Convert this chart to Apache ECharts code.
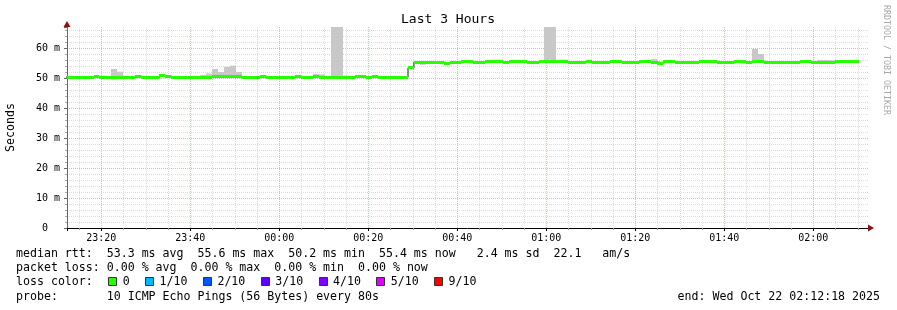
<!DOCTYPE html>
<html><head><meta charset="utf-8">
<script src="https://cdn.jsdelivr.net/npm/echarts@6/dist/echarts.min.js"></script>
<style>html,body{margin:0;padding:0;background:#fff}#c{width:897px;height:310px}</style>
</head><body><div id="c"></div>
<script>
// ---- data ----
const titleText = 'Last 3 Hours';
const yAxisName = 'Seconds';
const xMinMinutes = -47.7;   // 23:12:18 (minutes relative to 00:00)
const xMaxMinutes = 132.3;   // 02:12:18
const yMaxMs = 67;
const firstSampleMinutes = -48.4;
const sampleStepMinutes = 80 / 60;

const medianRtt = [
  50.3, 50.3, 50.3, 50.3, 50.3, 50.4, 50.3, 50.3, 50.3, 50.3,
  50.3, 50.3, 50.4, 50.3, 50.2, 50.3, 50.7, 50.5, 50.2, 50.2,
  50.3, 50.3, 50.3, 50.2, 50.3, 50.4, 50.4, 50.6, 50.6, 50.4,
  50.3, 50.2, 50.2, 50.6, 50.3, 50.3, 50.3, 50.3, 50.3, 50.4,
  50.3, 50.3, 50.4, 50.3, 50.3, 50.3, 50.3, 50.2, 50.2, 50.5,
  50.5, 50.3, 50.4, 50.3, 50.3, 50.3, 50.2, 50.3, 53.4, 55.3,
  55.3, 55.2, 55.3, 55.3, 55.0, 55.3, 55.3, 55.4, 55.4, 55.3,
  55.3, 55.4, 55.4, 55.4, 55.3, 55.4, 55.4, 55.4, 55.3, 55.3,
  55.4, 55.5, 55.5, 55.4, 55.4, 55.3, 55.3, 55.3, 55.4, 55.3,
  55.3, 55.3, 55.4, 55.4, 55.3, 55.2, 55.3, 55.4, 55.4, 55.3,
  55.0, 55.4, 55.4, 55.3, 55.3, 55.3, 55.3, 55.4, 55.4, 55.4,
  55.3, 55.3, 55.3, 55.4, 55.4, 55.3, 55.4, 55.6, 55.3, 55.3,
  55.3, 55.3, 55.3, 55.3, 55.4, 55.4, 55.3, 55.3, 55.3, 55.3,
  55.4, 55.4, 55.4, 55.4
];
const smokeHi = [
  50.6, 50.6, 50.6, 50.6, 50.6, 51.0, 50.6, 50.6, 53.0, 52.1,
  50.6, 50.6, 51.0, 50.6, 50.5, 50.6, 51.0, 50.9, 50.5, 50.5,
  50.6, 50.6, 50.6, 51.0, 51.5, 53.0, 52.0, 53.7, 54.1, 52.0,
  50.6, 50.5, 50.5, 50.9, 50.6, 50.6, 50.6, 50.6, 50.6, 50.9,
  50.6, 50.6, 51.3, 51.2, 50.6, 72.0, 72.0, 50.8, 50.5, 50.8,
  50.8, 50.6, 51.0, 50.6, 50.6, 50.6, 50.5, 50.6, 53.7, 55.6,
  55.6, 55.5, 55.6, 55.6, 55.3, 55.6, 55.6, 55.7, 55.7, 55.6,
  55.6, 55.7, 55.7, 55.7, 55.6, 55.7, 55.7, 55.7, 55.6, 55.6,
  55.7, 72.0, 72.0, 55.7, 55.7, 55.6, 55.6, 55.6, 55.7, 55.6,
  55.6, 55.6, 55.7, 55.7, 55.6, 55.5, 55.6, 55.7, 55.7, 56.3,
  55.5, 55.7, 55.7, 55.6, 55.6, 55.6, 55.6, 55.7, 55.7, 55.7,
  55.6, 55.6, 55.6, 55.7, 55.7, 55.6, 59.7, 58.0, 55.6, 55.6,
  55.6, 55.6, 55.6, 55.6, 55.7, 55.7, 55.6, 56.0, 56.0, 55.9,
  55.7, 55.7, 55.7, 55.7
];
const smokeLo = [
  49.7, 49.7, 49.8, 50.0, 50.0, 50.1, 50.0, 50.0, 49.5, 50.0,
  50.0, 50.0, 50.1, 50.0, 49.7, 49.9, 50.4, 50.2, 49.9, 49.9,
  50.0, 50.0, 50.0, 49.8, 50.0, 50.1, 50.1, 50.3, 50.3, 50.1,
  50.0, 49.9, 49.9, 50.2, 50.0, 49.7, 50.0, 50.0, 50.0, 50.1,
  50.0, 50.0, 50.0, 49.8, 50.0, 50.0, 50.0, 49.9, 49.7, 50.2,
  50.2, 50.0, 50.1, 50.0, 50.0, 50.0, 49.9, 50.0, 53.1, 54.9,
  54.4, 54.9, 54.7, 55.0, 54.7, 55.0, 55.0, 55.1, 55.0, 54.9,
  55.0, 55.1, 55.1, 55.0, 55.0, 55.1, 55.1, 55.1, 55.0, 55.0,
  55.1, 55.2, 55.2, 55.1, 55.1, 55.0, 54.9, 55.0, 55.1, 55.0,
  55.0, 55.0, 55.1, 55.1, 54.8, 54.9, 55.0, 55.1, 55.1, 55.0,
  54.7, 55.1, 55.1, 55.0, 55.0, 54.9, 55.0, 55.1, 55.1, 55.1,
  55.0, 55.0, 55.0, 55.1, 54.9, 55.0, 55.1, 55.3, 55.0, 55.0,
  55.0, 55.0, 55.0, 55.0, 55.1, 55.1, 54.8, 55.0, 55.0, 55.0,
  55.1, 55.1, 55.1, 55.1
];
const lossLabels = ['0', '1/10', '2/10', '3/10', '4/10', '5/10', '9/10'];
const lossColors = ['#26ff00', '#00b8ff', '#0059ff', '#5e00ff', '#7e00ff', '#dd00ff', '#ff0000'];
const statsRtt = 'median rtt:  53.3 ms avg  55.6 ms max  50.2 ms min  55.4 ms now   2.4 ms sd  22.1   am/s';
const statsLoss = 'packet loss: 0.00 % avg  0.00 % max  0.00 % min  0.00 % now';
const lossColorLabel = 'loss color:';
const probeText = 'probe:       10 ICMP Echo Pings (56 Bytes) every 80s';
const endText = 'end: Wed Oct 22 02:12:18 2025';
const watermark = 'RRDTOOL / TOBI OETIKER';

// ---- build ----
const MONO = '"DejaVu Sans Mono", monospace';
const smokeData = [], medData = [], lineData = [];
for (let i = 0; i < medianRtt.length; i++) {
  const t0 = firstSampleMinutes + i * sampleStepMinutes;
  const t1 = t0 + sampleStepMinutes;
  smokeData.push([t0, t1, smokeLo[i], smokeHi[i]]);
  medData.push([t0, t1, medianRtt[i]]);
  lineData.push([t0, medianRtt[i]]);
  if (i === medianRtt.length - 1) lineData.push([t1, medianRtt[i]]);
}
function clipToGrid(rect, cs) {
  return echarts.graphic.clipRectByRect(rect, {x: cs.x, y: cs.y, width: cs.width, height: cs.height});
}
function renderSmoke(params, api) {
  const a = api.coord([api.value(0), api.value(3)]);
  const b = api.coord([api.value(1), api.value(2)]);
  const x0 = Math.round(a[0]), x1 = Math.round(b[0]);
  const shape = clipToGrid({x: x0, y: a[1], width: x1 - x0, height: b[1] - a[1]}, params.coordSys);
  return shape && {type: 'rect', shape: shape, style: {fill: '#c8c8c8'}};
}
function renderMedian(params, api) {
  const a = api.coord([api.value(0), api.value(2)]);
  const b = api.coord([api.value(1), api.value(2)]);
  const x0 = Math.round(a[0]), x1 = Math.round(b[0]);
  const top = Math.round(a[1] - 1.5);
  const shape = clipToGrid({x: x0, y: top, width: x1 - x0, height: 3}, params.coordSys);
  return shape && {type: 'rect', shape: shape, style: {fill: lossColors[0]}};
}
function fmtTime(v) {
  let m = Math.round(v);
  m = ((m % 1440) + 1440) % 1440;
  const h = Math.floor(m / 60), mm = m % 60;
  return String(h).padStart(2, '0') + ':' + String(mm).padStart(2, '0');
}

const graphics = [];
function txt(x, y, s, opts) {
  graphics.push(Object.assign({type: 'text', x: x, y: y, silent: true,
    style: Object.assign({text: s, font: '11.6px ' + MONO, fill: '#000', textAlign: 'left', textVerticalAlign: 'middle'}, opts || {})}));
}
txt(448, 20, titleText, {font: '13px ' + MONO, textAlign: 'center'});
txt(16, 254, statsRtt);
txt(16, 268, statsLoss);
txt(16, 282, lossColorLabel);
txt(16, 296.5, probeText);
txt(880, 296.5, endText, {textAlign: 'right'});
let lx = 108.3;
for (let i = 0; i < lossLabels.length; i++) {
  graphics.push({type: 'rect', silent: true, shape: {x: Math.round(lx) + 0.5, y: 277.5, width: 8, height: 8},
    style: {fill: lossColors[i], stroke: '#333', lineWidth: 1}});
  txt(lx + 14.5, 282, lossLabels[i]);
  lx += 29.8 + 7 * lossLabels[i].length;
}
graphics.push({type: 'text', x: 886, y: 60, rotation: -Math.PI / 2, silent: true,
  style: {text: watermark, font: '8.3px ' + MONO, fill: '#a8a8a8', textAlign: 'center', textVerticalAlign: 'middle'}});

const chart = echarts.init(document.getElementById('c'), null, {renderer: 'canvas'});
chart.setOption({
  animation: false,
  backgroundColor: '#fff',
  grid: {left: 67, right: 29, top: 27, bottom: 82, containLabel: false, outerBoundsMode: 'none'},
  xAxis: [{
    type: 'value', min: xMinMinutes, max: xMaxMinutes, splitNumber: 9,
    axisLine: {show: true, onZero: false, lineStyle: {color: '#000', width: 1}},
    axisTick: {show: true, length: 3, lineStyle: {color: '#000'}},
    minorTick: {show: true, splitNumber: 4, length: 2, lineStyle: {color: '#999'}},
    axisLabel: {show: true, formatter: fmtTime, showMinLabel: false, showMaxLabel: false,
      margin: 5, fontFamily: 'DejaVu Sans Mono', fontSize: 10, color: '#000'},
    splitLine: {show: true, showMinLine: false, showMaxLine: false, lineStyle: {color: '#f5b0b0', type: [1, 1], width: 1}},
    minorSplitLine: {show: true, lineStyle: {color: '#dcdcdc', type: [1, 1], width: 1}}
  }, {
    type: 'value', min: xMinMinutes, max: xMaxMinutes, position: 'bottom',
    axisLine: {show: true, onZero: false, symbol: ['none', 'triangle'], symbolSize: [7, 6], symbolOffset: [0, 3],
      lineStyle: {color: '#901010', width: 0}},
    axisTick: {show: false}, axisLabel: {show: false}, splitLine: {show: false}
  }],
  yAxis: [{
    type: 'value', min: 0, max: yMaxMs, splitNumber: 7,
    name: yAxisName, nameLocation: 'middle', nameGap: 50, nameRotate: 90,
    nameTextStyle: {fontFamily: 'DejaVu Sans Mono', fontSize: 11.6, color: '#000'},
    axisLine: {show: true, onZero: false, lineStyle: {color: '#666', width: 1}},
    axisTick: {show: true, length: 3, lineStyle: {color: '#666'}},
    minorTick: {show: true, splitNumber: 5, length: 2, lineStyle: {color: '#aaa'}},
    axisLabel: {show: true, showMaxLabel: false, margin: 7, fontFamily: 'DejaVu Sans Mono', fontSize: 10, color: '#000',
      formatter: function (v) { return v === 0 ? '0  ' : v + ' m'; }},
    splitLine: {show: true, showMinLine: false, showMaxLine: false, lineStyle: {color: '#f5b0b0', type: [1, 1], width: 1}},
    minorSplitLine: {show: true, lineStyle: {color: '#dcdcdc', type: [1, 1], width: 1}}
  }, {
    type: 'value', min: 0, max: yMaxMs, position: 'left',
    axisLine: {show: true, onZero: false, symbol: ['none', 'triangle'], symbolSize: [7, 6], symbolOffset: [0, 3],
      lineStyle: {color: '#901010', width: 0}},
    axisTick: {show: false}, axisLabel: {show: false}, splitLine: {show: false}
  }],
  series: [{
    type: 'custom', name: 'smoke', xAxisIndex: 0, yAxisIndex: 0,
    renderItem: renderSmoke, data: smokeData, encode: {x: [0, 1], y: [2, 3]}, z: 2, silent: true
  }, {
    type: 'line', name: 'median', xAxisIndex: 0, yAxisIndex: 0, data: lineData, step: 'end',
    showSymbol: false, symbol: 'none', lineStyle: {color: '#202020', width: 1}, z: 3, silent: true
  }, {
    type: 'custom', name: 'loss0', xAxisIndex: 0, yAxisIndex: 0,
    renderItem: renderMedian, data: medData, encode: {x: [0, 1], y: 2}, z: 4, silent: true
  }],
  graphic: graphics
});
</script></body></html>
